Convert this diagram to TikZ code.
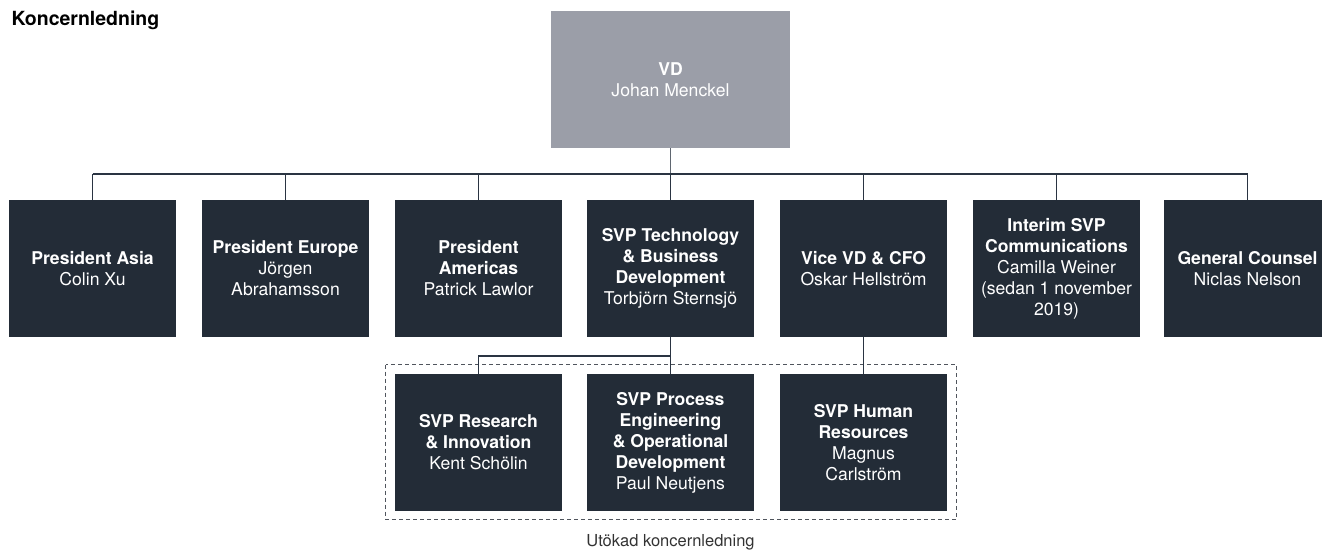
\documentclass[tikz,border=0pt]{standalone}
\usepackage{fontspec}
\setmainfont{TeX Gyre Heros}
\usetikzlibrary{positioning}

\definecolor{boxdark}{HTML}{232C37}
\definecolor{boxgray}{HTML}{9B9EA8}
\definecolor{linedark}{HTML}{2A3442}
\definecolor{linegray}{HTML}{5F6670}
\definecolor{dashgray}{HTML}{50555D}

\tikzset{
  orgbox/.style={fill=boxdark, text=white, minimum width=167, minimum height=137,
    inner sep=0pt, align=center, font=\fontsize{17.6}{21}\selectfont},
  topbox/.style={orgbox, fill=boxgray, minimum width=239},
  link/.style={draw=linedark, line width=1.2pt},
}

\begin{document}
\begin{tikzpicture}[x=1pt,y=-1pt]

\useasboundingbox (0,0) rectangle (1322,551);

     \coordinate (c1) at (92.5,268.5);
      \coordinate (c2) at (285.5,268.5);
       \coordinate (c3) at (478.5,268.5);
        \coordinate (c4) at (670.5,268.5);
         \coordinate (c5) at (863.5,268.5);
          \coordinate (c6) at (1056.5,268.5);
           \coordinate (c7) at (1247.5,268.5);

      \coordinate (bus) at (92.5,174);
      \coordinate (jt) at (670.5,356);

  \node[anchor=west, font=\fontsize{19.5}{22}\selectfont\bfseries] (title) at (8,20.5) {Koncernledning};

  \node[topbox] (vd) at (670.5,79.5) {\textbf{VD}\\Johan Menckel};

  \node[orgbox] (asia) at (c1) {\textbf{President Asia}\\Colin Xu};
  \node[orgbox] (europe) at (c2) {\textbf{President Europe}\\Jörgen\\Abrahamsson};
  \node[orgbox] (americas) at (c3) {\textbf{President}\\\textbf{Americas}\\Patrick Lawlor};
  \node[orgbox] (tech) at (c4) {\textbf{SVP Technology}\\\textbf{\& Business}\\\textbf{Development}\\Torbjörn Sternsjö};
  \node[orgbox] (cfo) at (c5) {\textbf{Vice VD \& CFO}\\Oskar Hellström};
  \node[orgbox] (comm) at (c6) {\textbf{Interim SVP}\\\textbf{Communications}\\Camilla Weiner\\(sedan 1 november\\2019)};
  \node[orgbox] (counsel) at (c7) {\textbf{General Counsel}\\Niclas Nelson};

  \node[orgbox] (research) at (478.5,442.5) {\textbf{SVP Research}\\\textbf{\& Innovation}\\Kent Schölin};
  \node[orgbox] (process) at (670.5,442.5) {\textbf{SVP Process}\\\textbf{Engineering}\\\textbf{\& Operational}\\\textbf{Development}\\Paul Neutjens};
  \node[orgbox] (hr) at (863.5,442.5) {\textbf{SVP Human}\\\textbf{Resources}\\Magnus\\Carlström};

  % extended management frame
  \draw[dashgray, dashed, line width=0.9pt, dash pattern=on 4pt off 3pt] (385.7,364.7) rectangle (956.7,519.3);
  \node[font=\fontsize{16.5}{18}\selectfont, text=black!80] (ext) at (670.5,542) {Utökad koncernledning};

  % connectors
  \draw[draw=linegray, line width=1.4pt] (vd.south) -- (vd.south |- bus);
  \draw[link] (asia.north |- bus) -- (counsel.north |- bus);
  \foreach \n in {asia,europe,americas,tech,cfo,comm,counsel}
    \draw[link] (\n.north) -- (\n.north |- bus);

  \draw[link] (tech.south) -- (process.north);
  \draw[link] (jt) -- (research.north |- jt) -- (research.north);
  \draw[link] (cfo.south) -- (hr.north);

\end{tikzpicture}
\end{document}
